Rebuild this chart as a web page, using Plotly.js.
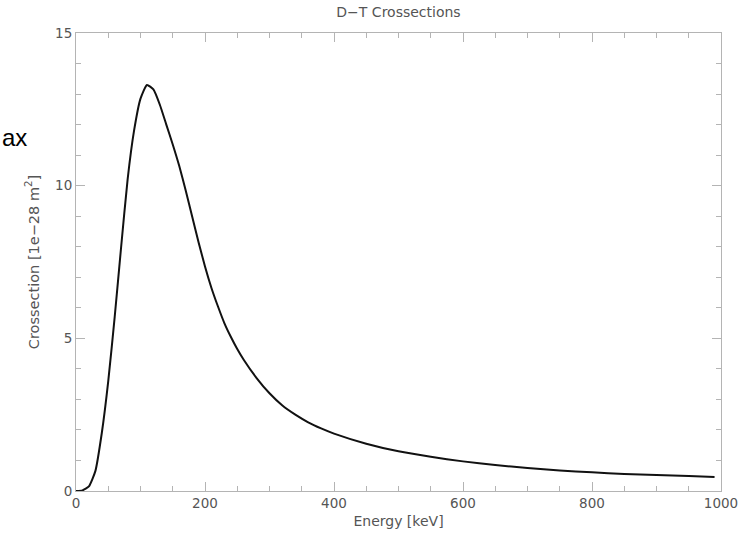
<!DOCTYPE html>
<html>
<head>
<meta charset="utf-8">
<script src="https://cdn.plot.ly/plotly-3.0.1.min.js"></script>
<style>html,body{margin:0;padding:0;background:#fff;}#chart{width:754px;height:538px;}</style>
</head>
<body>
<div id="chart"></div>
<script>
// Energy (keV) and D-T cross-section (1e-28 m^2)
var energy = [0,10,20,30,40,50,60,70,80,90,100,110,120,130,140,150,160,170,180,190,200,210,220,230,240,250,260,280,300,320,340,360,380,400,450,500,550,600,650,700,750,800,850,900,950,990];
var crossection = [0,0.02,0.15,0.65,1.9,3.6,5.7,8.0,10.2,11.8,12.85,13.3,13.15,12.65,12.0,11.35,10.65,9.85,9.0,8.15,7.35,6.65,6.05,5.5,5.05,4.65,4.3,3.7,3.2,2.8,2.5,2.25,2.05,1.88,1.55,1.3,1.12,0.97,0.85,0.75,0.67,0.61,0.56,0.52,0.49,0.46];
var xTicks = [0,200,400,600,800,1000];
var yTicks = [0,5,10,15];

var textColor = '#555555';
var axisColor = '#b4b4b4';
var fontFam = 'DejaVu Sans, sans-serif';

var trace = {
  x: energy, y: crossection, type: 'scatter', mode: 'lines',
  line: {color: '#111111', width: 2, shape: 'spline', smoothing: 0.5}, hoverinfo: 'none'
};

var layout = {
  width: 754, height: 538,
  margin: {l: 76, r: 33, t: 33, b: 47, pad: 0},
  paper_bgcolor: '#ffffff', plot_bgcolor: '#ffffff',
  showlegend: false,
  font: {family: fontFam, color: textColor, size: 13},
  title: {text: 'D\u2212T Crossections', x: 0.5, xref: 'paper', y: 1 - 12/538, yref: 'container', yanchor: 'middle', font: {family: fontFam, size: 14, color: textColor}},
  xaxis: {
    range: [0, 1000], tickvals: xTicks, ticktext: xTicks.map(String),
    ticks: 'inside', ticklen: 9, tickwidth: 1, tickcolor: axisColor,
    minor: {dtick: 50, tick0: 0, ticks: 'inside', ticklen: 5, tickcolor: axisColor, showgrid: false},
    showline: true, linecolor: axisColor, linewidth: 1, mirror: 'ticks',
    showgrid: false, zeroline: false, automargin: false,
    tickfont: {family: fontFam, size: 13.5, color: textColor},
    title: {text: 'Energy [keV]', standoff: 5, font: {family: fontFam, size: 14, color: textColor}}
  },
  yaxis: {
    range: [0, 15], tickvals: yTicks, ticktext: yTicks.map(String),
    ticks: 'inside', ticklen: 9, tickwidth: 1, tickcolor: axisColor,
    minor: {dtick: 1, tick0: 0, ticks: 'inside', ticklen: 5, tickcolor: axisColor, showgrid: false},
    showline: true, linecolor: axisColor, linewidth: 1, mirror: 'ticks',
    showgrid: false, zeroline: false, automargin: false,
    tickfont: {family: fontFam, size: 13.5, color: textColor},
    title: {text: 'Crossection [1e\u221228 m<sup>2</sup>]', standoff: 12, font: {family: fontFam, size: 14.5, color: textColor}}
  },
  annotations: [{
    text: 'ax', xref: 'paper', yref: 'paper', x: (0 - 76) / 645, y: (491 - 137) / 458,
    xanchor: 'left', yanchor: 'middle', showarrow: false,
    font: {family: 'Liberation Sans, Arial, sans-serif', size: 24, color: '#000000'}
  }]
};

Plotly.newPlot('chart', [trace], layout, {staticPlot: true, displayModeBar: false});
</script>
</body>
</html>
